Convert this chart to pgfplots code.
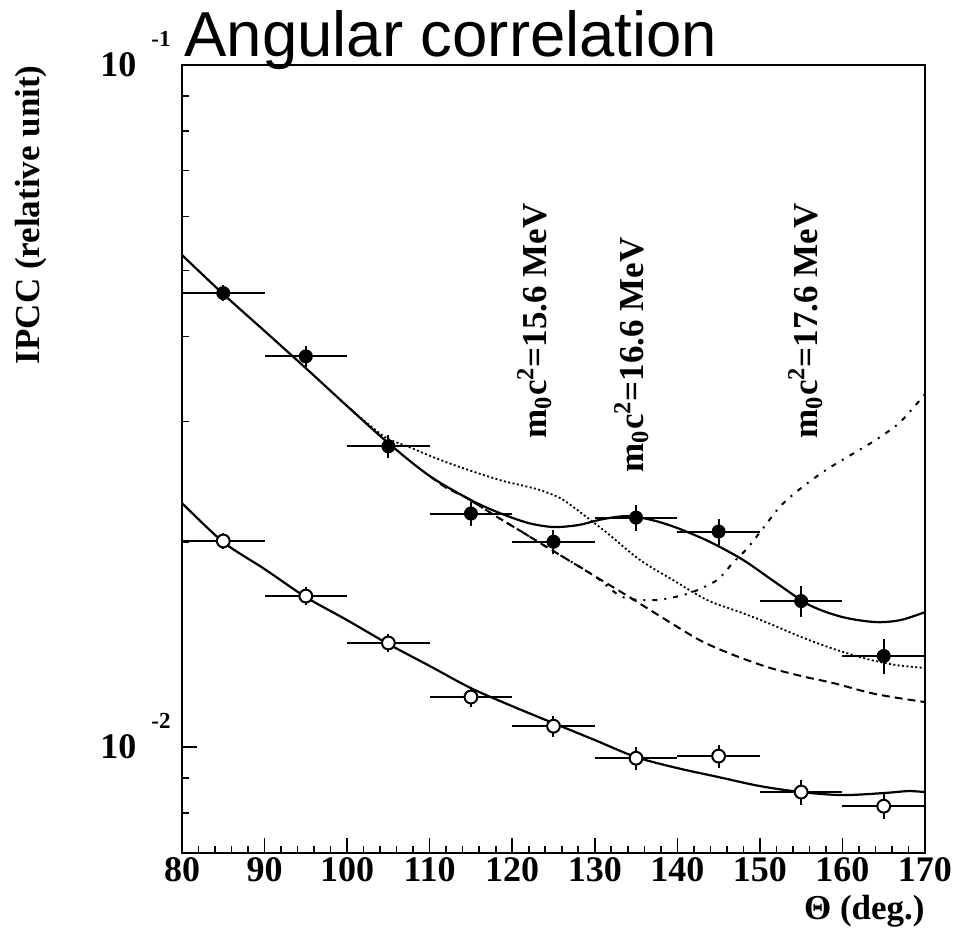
\documentclass[border=0pt]{standalone}
\usepackage{fontspec}
\setmainfont{Liberation Serif}
\newfontfamily\titlefont{Liberation Sans}
\usepackage{pgfplots}
\pgfplotsset{compat=1.18}
\newcommand{\lbl}{\fontsize{17.5}{17.5}\selectfont\bfseries}
\newcommand{\tlbl}{\fontsize{18}{18}\selectfont\bfseries}
\newcommand{\ylab}[1]{\tlbl 10\hspace{7.5pt}\smash{\raisebox{15.4pt}{\fontsize{11.5}{11.5}\selectfont\bfseries -#1}}}
\begin{document}
\begin{tikzpicture}
\useasboundingbox (-91pt,-40pt) rectangle (387pt,426.5pt);
\begin{axis}[
  scale only axis, width=371.5pt, height=394pt,
  at={(0pt,0pt)}, anchor=south west,
  xmin=80, xmax=170, ymode=log, ymin=0.006993, ymax=0.1,
  axis line style={line width=1pt},
  every tick/.style={black, line width=0.8pt},
  tick align=inside,
  xtick pos=left, ytick pos=left,
  xtick={80,90,100,110,120,130,140,150,160,170},
  xticklabels={80,90,100,110,120,130,140,150,160,170},
  minor x tick num=4,
  ytick={0.01,0.1}, yticklabels={{\ylab{2}},{\ylab{1}}},
  minor ytick={0.007,0.008,0.009,0.02,0.03,0.04,0.05,0.06,0.07,0.08,0.09},
  major tick length=7.5pt, minor tick length=3.75pt,
  xticklabel style={font=\tlbl, anchor=north, inner sep=0pt, yshift=-2pt},
  yticklabel style={anchor=east, inner sep=0pt, xshift=-5.5pt},
  clip=true,
]
% dashed: no signal
\addplot[black, line width=1pt, dash pattern=on 4pt off 2.5pt, smooth] coordinates {
(110,0.02497) (112,0.0240) (114.5,0.02318) (118,0.02181) (121,0.02074) (123.4,0.01991)
(125.8,0.01912) (130,0.01781) (134,0.01665) (138.3,0.01545) (142.7,0.01435) (146.5,0.01369)
(150.9,0.01310) (155,0.01271) (158.9,0.01241) (164,0.01196) (170,0.01164)};
% dash-dot: 17.6 MeV
\addplot[black, line width=1pt, dash pattern=on 2.5pt off 3.5pt on 1pt off 3.5pt, smooth] coordinates {
(115,0.02298) (118,0.02181) (121,0.02074) (123.4,0.01991) (125.8,0.01912) (130,0.01781)
(133.4,0.01659) (137.5,0.01643) (141.5,0.01682) (144.8,0.01757) (146.7,0.01861)
(148.5,0.01958) (150.5,0.02102) (152.5,0.02256) (155,0.02398) (158,0.02548) (161,0.02680)
(164,0.02819) (167,0.02996) (170,0.03293)};
% dotted: 15.6 MeV
\addplot[black, line width=0.9pt, dash pattern=on 1pt off 1.2pt, smooth] coordinates {
(100,0.03162) (102.4,0.02986) (104.8,0.02838) (107.5,0.02754) (110.4,0.02662) (114,0.02565)
(118.5,0.02463) (121,0.02422) (123.4,0.02381) (125.8,0.02318) (127.4,0.02249) (129.5,0.02151)
(131.5,0.02060) (135.5,0.01880) (139.5,0.01757) (143.6,0.01643) (147.6,0.01577) (151,0.01520)
(155,0.01450) (159,0.01392) (163,0.01346) (166.5,0.01319) (170,0.01306)};
% upper solid: 16.6 MeV best fit
\addplot[black, line width=1.1pt, smooth] coordinates {
(80,0.05265) (85,0.04615) (90,0.04074) (95,0.03594) (100,0.03162) (105,0.02790) (110,0.02497)
(115,0.02302) (118.5,0.02203) (122,0.02130) (125,0.02102) (128,0.02116) (131,0.02159)
(134,0.02181) (137,0.02151) (140,0.02095) (144,0.01998) (148,0.01880) (152,0.01740)
(156,0.01615) (160,0.01551) (164,0.01525) (167,0.01535) (170,0.01577)};
% lower solid
\addplot[black, line width=1.1pt, smooth] coordinates {
(80,0.02279) (85,0.01998) (90,0.01824) (95,0.01659) (100,0.01535) (105,0.01416) (110,0.01315)
(115,0.01220) (120,0.01148) (125,0.01084) (130,0.01024) (135,0.009667) (140,0.009315)
(145,0.009036) (150,0.008766) (155,0.008590) (160,0.008503) (165,0.008562) (168,0.008619)
(170,0.008590)};
% filled points
\addplot[black, only marks, mark=*, mark size=3.2pt,
  mark options={fill=black, draw=black, line width=0.6pt},
  error bars/.cd, x dir=both, x explicit, y dir=both, y explicit,
  error bar style={line width=1pt, black}, error mark=none] coordinates {
(85,0.0463) +- (5,0.00127)
(95,0.0374) +- (5,0.00128)
(105,0.0276) +- (5,0.00104)
(115,0.0220) +- (5,0.00091)
(125,0.0200) +- (5,0.00083)
(135,0.0217) +- (5,0.00097)
(145,0.0207) +- (5,0.00093)
(155,0.01637) +- (5,0.00085)
(165,0.01360) +- (5,0.00080)};
% open points
\addplot[black, only marks, mark=*, mark size=3.2pt,
  mark options={fill=white, draw=black, line width=1pt},
  error bars/.cd, x dir=both, x explicit, y dir=both, y explicit,
  error bar style={line width=1pt, black}, error mark=none] coordinates {
(85,0.02005) +- (5,0.00055)
(95,0.01665) +- (5,0.00051)
(105,0.01421) +- (5,0.00043)
(115,0.01184) +- (5,0.00041)
(125,0.01073) +- (5,0.00037)
(135,0.00963) +- (5,0.00036)
(145,0.00970) +- (5,0.00037)
(155,0.00859) +- (5,0.00036)
(165,0.00819) +- (5,0.00035)};
\end{axis}
\node[anchor=base east, font=\titlefont\fontsize{31.75}{31.75}\selectfont, inner sep=0pt, anchor=base west] at (1pt,398pt) {Angular correlation};
\node[rotate=90, anchor=base east, font=\lbl, inner sep=0pt] at (-71pt,394pt) {IPCC (relative unit)};
\node[anchor=base east, font=\lbl, inner sep=0pt] at (371.5pt,-33pt) {Θ (deg.)};
\node[rotate=90, anchor=base east, font=\lbl, inner sep=0pt] at (182pt,325pt) {m\textsubscript{0}c\textsuperscript{2}=15.6 MeV};
\node[rotate=90, anchor=base east, font=\lbl, inner sep=0pt] at (230.5pt,308pt) {m\textsubscript{0}c\textsuperscript{2}=16.6 MeV};
\node[rotate=90, anchor=base east, font=\lbl, inner sep=0pt] at (317.5pt,325pt) {m\textsubscript{0}c\textsuperscript{2}=17.6 MeV};
\end{tikzpicture}
\end{document}
